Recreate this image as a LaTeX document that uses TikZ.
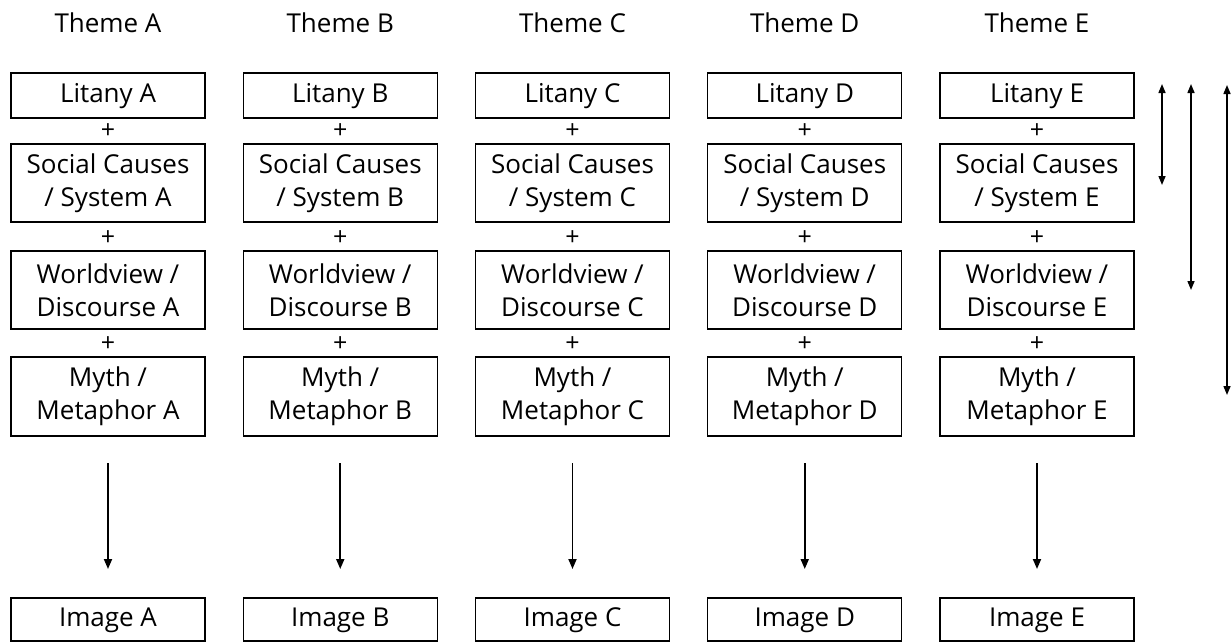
\documentclass[tikz,border=0pt]{standalone}
\usepackage{fontspec}
\setmainfont{Open Sans}
\usetikzlibrary{arrows.meta}
\tikzset{
  box/.style={draw=black, line width=1.1pt, minimum width=194pt, inner sep=0pt, align=center, font=\fontsize{26}{33}\selectfont},
  lbl/.style={font=\fontsize{26}{33}\selectfont, inner sep=0pt},
  plus/.style={font=\fontsize{25}{26}\selectfont, inner sep=0pt},
  down/.style={-{Triangle[length=10pt,width=8pt]}, line width=1.8pt},
  both/.style={{Triangle[length=9pt,width=7pt]}-{Triangle[length=9pt,width=7pt]}, line width=1.5pt}
}
\begin{document}
\begin{tikzpicture}[x=1pt,y=-1pt]
\useasboundingbox (0,0) rectangle (1231,643);
\foreach \L [count=\i from 0] in {A,B,C,D,E}{
  \pgfmathsetmacro{\cx}{108+232.25*\i}
  \node[lbl] (th\L) at (\cx,23) {Theme \L};
  \node[box, minimum height=45pt, text height=19pt, text depth=6pt] (lit\L) at (\cx,95.5) {Litany \L};
  \node[plus] (p1\L) at (\cx,131) {+};
  \node[box, minimum height=78pt] (soc\L) at (\cx,183) {Social Causes\\/ System \L};
  \node[plus] (p2\L) at (\cx,238) {+};
  \node[box, minimum height=78pt] (wor\L) at (\cx,290) {Worldview /\\Discourse \L};
  \node[plus] (p3\L) at (\cx,344) {+};
  \node[box, minimum height=79pt] (myt\L) at (\cx,396.5) {Myth /\\Metaphor \L};
  \node[box, minimum height=43pt, text height=19pt, text depth=6pt] (img\L) at (\cx,619.5) {Image \L};
  \coordinate (as\L) at (\cx,463);
  \coordinate (ae\L) at (\cx,569);
  \draw[down] (as\L) -- (ae\L);
}
\coordinate (r1a) at (1162,84);
\coordinate (r1b) at (1162,185);
\coordinate (r2a) at (1191,84);
\coordinate (r2b) at (1191,290);
\coordinate (r3a) at (1227,85);
\coordinate (r3b) at (1227,395);
\draw[both] (r1a) -- (r1b);
\draw[both] (r2a) -- (r2b);
\draw[both] (r3a) -- (r3b);
\end{tikzpicture}
\end{document}
